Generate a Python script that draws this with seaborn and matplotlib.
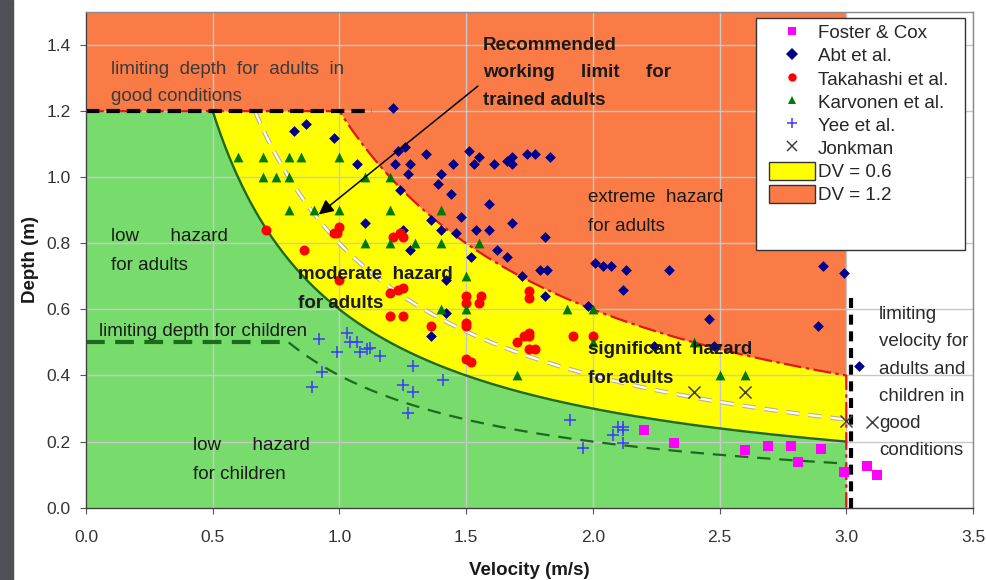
"""
Flood hazard chart: depth vs velocity with DV hazard bands and experimental points.
"""

import numpy as np
import matplotlib
matplotlib.use("Agg")
import matplotlib.pyplot as plt
import seaborn as sns
from matplotlib.lines import Line2D
from matplotlib.patches import Patch, Rectangle
from matplotlib import patheffects as pe

# ── hazard thresholds (depth x velocity) and limits ──
DV_LOW      = 0.6
DV_TRAINED  = 0.8
DV_HIGH     = 1.2
DV_CHILD    = 0.4
DEPTH_ADULT = 1.2
DEPTH_CHILD = 0.5
VEL_LIMIT   = 3.0
DEPTH_LINE_END = 1.13   # end of black dashed 1.2 m line
VEL_LINE_X     = 3.02   # black dashed velocity limit
VEL_LINE_TOP   = 0.65
Y_MAX = 1.5
X_MAX = 3.5

# ── experimental points (velocity m/s, depth m) ──
foster_v = [2.20, 2.32, 2.60, 2.69, 2.78, 2.81, 2.90, 2.99, 3.08, 3.12]
foster_d = [0.235, 0.197, 0.175, 0.188, 0.188, 0.139, 0.178, 0.109, 0.126, 0.099]

abt_v = [1.21, 0.87, 0.82, 0.98, 1.07, 1.26, 1.23, 1.34, 1.22, 1.28,
         1.51, 1.55, 1.45, 1.53, 1.27, 1.40, 1.39, 1.24, 1.44, 1.48,
         1.36, 1.10, 1.40, 1.54, 1.46, 1.25, 1.28, 1.52,
         1.61, 1.66, 1.68, 1.68, 1.74, 1.77, 1.83,
         1.59, 1.59, 1.68, 1.81, 1.62, 1.66,
         1.72, 1.79, 1.82, 2.01, 2.04, 2.07, 2.13, 2.30,
         2.12, 1.81, 1.98, 2.46, 2.24, 2.48,
         1.42, 1.42, 1.36, 2.91, 2.99, 2.89, 3.05]
abt_d = [1.21, 1.16, 1.14, 1.12, 1.04, 1.09, 1.08, 1.07, 1.04, 1.04,
         1.08, 1.06, 1.04, 1.04, 1.01, 1.01, 0.98, 0.96, 0.95, 0.88,
         0.87, 0.86, 0.84, 0.84, 0.83, 0.84, 0.78, 0.76,
         1.04, 1.05, 1.06, 1.04, 1.07, 1.07, 1.06,
         0.92, 0.84, 0.86, 0.82, 0.78, 0.76,
         0.70, 0.72, 0.72, 0.74, 0.73, 0.73, 0.72, 0.72,
         0.66, 0.64, 0.61, 0.57, 0.49, 0.49,
         0.69, 0.59, 0.52, 0.73, 0.71, 0.55, 0.43]

takahashi_v = [0.71, 0.86, 1.00, 0.99, 0.98, 1.00,
               1.21, 1.24, 1.25,
               1.20, 1.23, 1.25, 1.20, 1.25, 1.36,
               1.50, 1.50, 1.56, 1.55, 1.50, 1.50, 1.50, 1.52,
               1.75, 1.75, 1.70, 1.73, 1.75, 1.75, 1.75, 1.77,
               1.92, 2.00]
takahashi_d = [0.84, 0.78, 0.85, 0.83, 0.83, 0.69,
               0.82, 0.83, 0.82,
               0.65, 0.66, 0.665, 0.58, 0.58, 0.55,
               0.64, 0.62, 0.64, 0.62, 0.56, 0.55, 0.45, 0.44,
               0.655, 0.635, 0.50, 0.52, 0.53, 0.52, 0.48, 0.48,
               0.52, 0.52]

karvonen_v = [0.60, 0.70, 0.80, 0.85, 1.00,
              0.70, 0.75, 0.80, 1.10, 1.20,
              0.80, 0.90, 1.00, 1.20, 1.40,
              1.10, 1.20, 1.30, 1.40, 1.55,
              1.50, 1.40, 1.50, 1.90, 2.00,
              2.00, 2.40, 1.70, 2.50, 2.60]
karvonen_d = [1.06, 1.06, 1.06, 1.06, 1.06,
              1.00, 1.00, 1.00, 1.00, 1.00,
              0.90, 0.90, 0.90, 0.90, 0.90,
              0.80, 0.80, 0.80, 0.80, 0.80,
              0.70, 0.60, 0.60, 0.60, 0.60,
              0.50, 0.50, 0.40, 0.40, 0.40]

yee_v = [0.92, 1.03, 1.04, 1.07, 0.99, 1.08, 1.11, 1.12, 1.16, 0.93, 0.89,
         1.29, 1.25, 1.29, 1.27, 1.41, 1.91, 1.96, 2.10, 2.12, 2.12, 2.08, 2.12]
yee_d = [0.51, 0.53, 0.50, 0.50, 0.47, 0.47, 0.48, 0.483, 0.46, 0.41, 0.365,
         0.43, 0.37, 0.35, 0.286, 0.385, 0.266, 0.182, 0.245, 0.245, 0.235, 0.22, 0.197]

jonkman_v = [2.40, 2.60, 3.00, 3.10]
jonkman_d = [0.35, 0.35, 0.263, 0.259]

GREEN  = "#78DC6C"
YELLOW = "#FFFF00"
ORANGE = "#FA7B46"

sns.set_theme(style="whitegrid")
plt.rcParams["font.family"] = ["Liberation Sans", "DejaVu Sans"]

fig = plt.figure(figsize=(9.86, 5.8), dpi=100)
fig.patches.append(Rectangle((0, 0), 13 / 986, 1, transform=fig.transFigure,
                             color="#4d5054", zorder=0))
ax = fig.add_axes([0.0872, 0.1247, 0.8996, 0.8546])

# ── hazard bands ─────────────────────────
v = np.linspace(0, VEL_LIMIT, 801)
v_safe = np.maximum(v, 1e-6)
low  = np.minimum(DEPTH_ADULT, DV_LOW / v_safe)
high = np.minimum(DEPTH_ADULT, DV_HIGH / v_safe)
ax.fill_between(v, 0, low, color=GREEN, lw=0, zorder=0.2)
ax.fill_between(v, low, high, color=YELLOW, lw=0, zorder=0.2)
ax.fill_between(v, high, Y_MAX, color=ORANGE, lw=0, zorder=0.2)

# ── boundary curves ──────────────────────
v_low = np.linspace(DV_LOW / DEPTH_ADULT, VEL_LIMIT, 300)
ax.plot(v_low, DV_LOW / v_low, color="#1E6B1E", lw=1.7, zorder=2)

v_tr = np.linspace(DV_TRAINED / DEPTH_ADULT, VEL_LIMIT, 300)
ax.plot(v_tr, DV_TRAINED / v_tr, color="white", lw=1.6, dashes=(6, 4), zorder=2,
        path_effects=[pe.withStroke(linewidth=3.2, foreground="#bfae90")])

v_hi = np.linspace(DV_HIGH / DEPTH_ADULT, VEL_LIMIT, 300)
red_x = np.concatenate([[0], v_hi, [VEL_LIMIT]])
red_y = np.concatenate([[DEPTH_ADULT], DV_HIGH / v_hi, [0]])
ax.plot(red_x, red_y, color="#E3141C", lw=1.6, dashes=(8, 2, 1.5, 2), zorder=2)

knee = DV_CHILD / DEPTH_CHILD
ax.plot([0, knee], [DEPTH_CHILD, DEPTH_CHILD], color="#1A6B1A", lw=3, dashes=(4.5, 2.5), zorder=2)
v_ch = np.linspace(knee, VEL_LIMIT, 300)
ax.plot(v_ch, DV_CHILD / v_ch, color="#1A6B1A", lw=1.6, dashes=(6, 4), zorder=2)

ax.plot([0, DEPTH_LINE_END], [DEPTH_ADULT, DEPTH_ADULT], color="black", lw=3,
        dashes=(3.2, 1.7), zorder=2.5)
ax.plot([VEL_LINE_X, VEL_LINE_X], [0, VEL_LINE_TOP], color="black", lw=3,
        dashes=(2.4, 1.6), zorder=2.5)

# ── experimental data ─────────────────────
series = [
    ("Foster & Cox",    foster_v,    foster_d,    "s", "#FF00FF", 48, 0),
    ("Abt et al.",      abt_v,       abt_d,       "D", "#00008B", 30, 0),
    ("Takahashi et al.", takahashi_v, takahashi_d, "o", "#FF0000", 52, 0),
    ("Karvonen et al.", karvonen_v,  karvonen_d,  "^", "#007A00", 50, 0),
    ("Yee et al.",      yee_v,       yee_d,       "+", "#3A3AFF", 75, 1.1),
    ("Jonkman",         jonkman_v,   jonkman_d,   "x", "#404040", 75, 1.1),
]
for label, xs, ys, marker, color, size, lw in series:
    sns.scatterplot(x=xs, y=ys, marker=marker, color=color, s=size, linewidth=lw,
                    ax=ax, zorder=3, legend=False)

# ── annotations ──────────────────────────
texts = [
    (0.10, 1.326, ["limiting  depth  for  adults  in", "good conditions"], "normal", "#3a3a3a", 27),
    (1.567, 1.399, ["Recommended", "working     limit     for", "trained adults"], "bold", "#1a1a1a", 27.5),
    (0.10, 0.820, ["low      hazard", "for adults"], "normal", "#1a1a1a", 29),
    (0.838, 0.705, ["moderate  hazard", "for adults"], "bold", "#1a1a1a", 29),
    (1.981, 0.938, ["extreme  hazard", "for adults"], "normal", "#1a1a1a", 29),
    (0.052, 0.532, ["limiting depth for children"], "normal", "#1a1a1a", 27),
    (1.981, 0.478, ["significant  hazard", "for adults"], "bold", "#1a1a1a", 29),
    (0.423, 0.187, ["low      hazard", "for children"], "normal", "#1a1a1a", 29),
    (3.129, 0.584, ["limiting", "velocity for", "adults and", "children in", "good", "conditions"],
     "normal", "#2a2a2a", 27.2),
]
for x, y, lines, weight, color, gap_px in texts:
    for i, line in enumerate(lines):
        ax.annotate(line, xy=(x, y), xytext=(0, -i * gap_px * 0.72), textcoords="offset points",
                    ha="left", va="center", fontsize=13.5, fontweight=weight, color=color,
                    zorder=4)

ax.annotate("", xy=(0.91, 0.882), xytext=(1.555, 1.281),
            arrowprops=dict(arrowstyle="-|>", color="black", lw=1.1, mutation_scale=22),
            zorder=4)

# ── axes styling ─────────────────────────
ax.set_xlim(0, X_MAX)
ax.set_ylim(0, Y_MAX)
ax.set_xticks(np.arange(0, 3.51, 0.5))
ax.set_yticks(np.arange(0, 1.41, 0.2))
ax.xaxis.set_major_formatter(matplotlib.ticker.FormatStrFormatter("%.1f"))
ax.yaxis.set_major_formatter(matplotlib.ticker.FormatStrFormatter("%.1f"))
ax.grid(True, color="#c8c8c8", lw=1.0)
ax.set_axisbelow(True)
ax.set_facecolor("white")
ax.tick_params(axis="both", bottom=True, left=True, direction="out", length=4, width=0.8,
               color="#555555", labelsize=12.5, labelcolor="#333333")
ax.tick_params(axis="x", pad=12)
ax.tick_params(axis="y", pad=7)
for side, spine in ax.spines.items():
    spine.set_visible(True)
    spine.set_linewidth(1.0)
    spine.set_color("#404040" if side in ("left", "bottom") else "#8a8a8a")

ax.set_xlabel("Velocity (m/s)", fontsize=13.5, fontweight="bold", color="#1a1a1a", labelpad=12.5)
ax.set_ylabel("Depth (m)", fontsize=13.5, fontweight="bold", color="#1a1a1a", labelpad=5.5)

# ── legend (frame drawn separately to get the uneven padding) ──
ax.add_patch(Rectangle((0.7554, 0.520), 0.2356, 0.468, transform=ax.transAxes,
                       facecolor="white", edgecolor="#333333", lw=1.0, zorder=4.5))
handles = [Line2D([], [], marker=m, color=c, linestyle="none",
                  markersize=(7 if m in "+x" else 6), markeredgewidth=(1.1 if m in "+x" else 0),
                  label=lab)
           for lab, _, _, m, c, _, _ in series]
handles += [Patch(facecolor=YELLOW, edgecolor="#333333", label="DV = 0.6"),
            Patch(facecolor=ORANGE, edgecolor="#333333", label="DV = 1.2")]
leg = ax.legend(handles=handles, loc="upper left", bbox_to_anchor=(0.770, 0.978),
                borderaxespad=0, fontsize=13.5, frameon=False,
                handlelength=2.45, handleheight=1.1,
                handletextpad=0.16, labelspacing=0.2, borderpad=0)
leg.set_zorder(5)

fig.savefig("out.png", dpi=100, facecolor="white")
